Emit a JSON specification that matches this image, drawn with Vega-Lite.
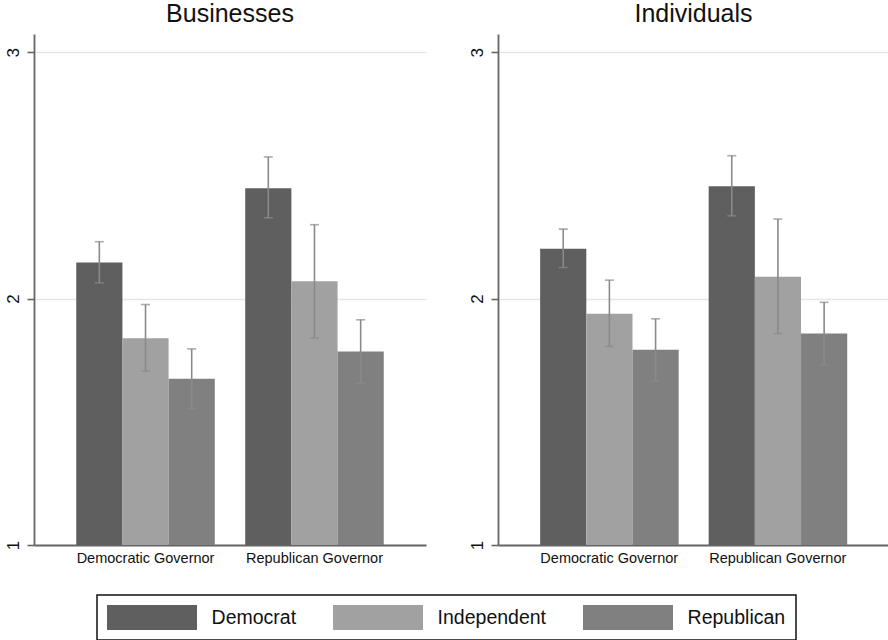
{
  "$schema": "https://vega.github.io/schema/vega-lite/v6.json",
  "background": "white",
  "padding": {"left": 4, "top": 2, "right": 0, "bottom": 0},
  "datasets": {
    "means": [
      {"panel": "Businesses", "governor": "Democratic Governor", "party": "Democrat", "mean": 2.147, "lo": 2.064, "hi": 2.231},
      {"panel": "Businesses", "governor": "Democratic Governor", "party": "Independent", "mean": 1.839, "lo": 1.706, "hi": 1.976},
      {"panel": "Businesses", "governor": "Democratic Governor", "party": "Republican", "mean": 1.675, "lo": 1.554, "hi": 1.796},
      {"panel": "Businesses", "governor": "Republican Governor", "party": "Democrat", "mean": 2.448, "lo": 2.328, "hi": 2.575},
      {"panel": "Businesses", "governor": "Republican Governor", "party": "Independent", "mean": 2.070, "lo": 1.841, "hi": 2.300},
      {"panel": "Businesses", "governor": "Republican Governor", "party": "Republican", "mean": 1.785, "lo": 1.656, "hi": 1.914},
      {"panel": "Individuals", "governor": "Democratic Governor", "party": "Democrat", "mean": 2.202, "lo": 2.126, "hi": 2.282},
      {"panel": "Individuals", "governor": "Democratic Governor", "party": "Independent", "mean": 1.939, "lo": 1.806, "hi": 2.075},
      {"panel": "Individuals", "governor": "Democratic Governor", "party": "Republican", "mean": 1.792, "lo": 1.666, "hi": 1.918},
      {"panel": "Individuals", "governor": "Republican Governor", "party": "Democrat", "mean": 2.456, "lo": 2.336, "hi": 2.580},
      {"panel": "Individuals", "governor": "Republican Governor", "party": "Independent", "mean": 2.089, "lo": 1.858, "hi": 2.323},
      {"panel": "Individuals", "governor": "Republican Governor", "party": "Republican", "mean": 1.858, "lo": 1.731, "hi": 1.985}
    ]
  },
  "spacing": 42,
  "hconcat": [
    {
      "title": "Businesses",
      "width": 392,
      "height": 511,
      "data": {"name": "means"},
      "transform": [{"filter": "datum.panel === 'Businesses'"}],
      "encoding": {
        "x": {"field": "governor", "type": "nominal", "title": null,
              "scale": {"paddingInner": 0.18, "paddingOuter": 0.25}},
        "xOffset": {"field": "party", "type": "nominal", "sort": ["Democrat", "Independent", "Republican"],
                    "scale": {"paddingInner": 0, "paddingOuter": 0}}
      },
      "layer": [
        {
          "mark": {"type": "bar"},
          "encoding": {
            "y": {"field": "mean", "type": "quantitative", "title": null,
                  "scale": {"domain": [1, 3.074], "zero": false, "nice": false},
                  "axis": {"values": [1, 2, 3], "tickMinStep": 0.5, "format": ".0f", "labelOverlap": false, "labelBound": false}},
            "y2": {"datum": 1},
            "color": {"field": "party", "type": "nominal", "title": null,
                      "scale": {"domain": ["Democrat", "Independent", "Republican"], "range": ["#5f5f5f", "#a1a1a1", "#808080"]}}
          }
        },
        {
          "mark": {"type": "rule", "color": "#8a8a8a", "strokeWidth": 1.6},
          "encoding": {"y": {"field": "lo", "type": "quantitative"}, "y2": {"field": "hi"}}
        },
        {
          "mark": {"type": "tick", "orient": "horizontal", "color": "#8a8a8a", "size": 9, "thickness": 1.6},
          "encoding": {"y": {"field": "lo", "type": "quantitative"}}
        },
        {
          "mark": {"type": "tick", "orient": "horizontal", "color": "#8a8a8a", "size": 9, "thickness": 1.6},
          "encoding": {"y": {"field": "hi", "type": "quantitative"}}
        }
      ]
    },
    {
      "title": "Individuals",
      "width": 391,
      "height": 511,
      "data": {"name": "means"},
      "transform": [{"filter": "datum.panel === 'Individuals'"}],
      "encoding": {
        "x": {"field": "governor", "type": "nominal", "title": null,
              "scale": {"paddingInner": 0.18, "paddingOuter": 0.25}},
        "xOffset": {"field": "party", "type": "nominal", "sort": ["Democrat", "Independent", "Republican"],
                    "scale": {"paddingInner": 0, "paddingOuter": 0}}
      },
      "layer": [
        {
          "mark": {"type": "bar"},
          "encoding": {
            "y": {"field": "mean", "type": "quantitative", "title": null,
                  "scale": {"domain": [1, 3.074], "zero": false, "nice": false},
                  "axis": {"values": [1, 2, 3], "tickMinStep": 0.5, "format": ".0f", "labelOverlap": false, "labelBound": false}},
            "y2": {"datum": 1},
            "color": {"field": "party", "type": "nominal", "title": null,
                      "scale": {"domain": ["Democrat", "Independent", "Republican"], "range": ["#5f5f5f", "#a1a1a1", "#808080"]}}
          }
        },
        {
          "mark": {"type": "rule", "color": "#8a8a8a", "strokeWidth": 1.6},
          "encoding": {"y": {"field": "lo", "type": "quantitative"}, "y2": {"field": "hi"}}
        },
        {
          "mark": {"type": "tick", "orient": "horizontal", "color": "#8a8a8a", "size": 9, "thickness": 1.6},
          "encoding": {"y": {"field": "lo", "type": "quantitative"}}
        },
        {
          "mark": {"type": "tick", "orient": "horizontal", "color": "#8a8a8a", "size": 9, "thickness": 1.6},
          "encoding": {"y": {"field": "hi", "type": "quantitative"}}
        }
      ]
    }
  ],
  "resolve": {"scale": {"color": "shared"}},
  "config": {
    "font": "Liberation Sans",
    "view": {"stroke": null},
    "title": {"fontSize": 25, "fontWeight": "normal", "color": "#111111", "anchor": "middle", "offset": 7, "baseline": "alphabetic", "font": "Liberation Sans"},
    "axisX": {
      "labelAngle": 0, "labelFontSize": 14.5, "labelColor": "#111111", "ticks": false,
      "labelPadding": 6, "domainColor": "#666666", "domainWidth": 1.8, "grid": false
    },
    "axisY": {
      "labelAngle": -90, "labelFontSize": 17, "labelColor": "#111111",
      "tickSize": 7, "tickColor": "#666666", "tickWidth": 1.6, "labelPadding": 5,
      "domainColor": "#666666", "domainWidth": 1.8,
      "grid": true, "gridColor": "#e6e6e6", "gridWidth": 1.3
    },
    "legend": {
      "orient": "none", "legendX": 63, "legendY": 561, "direction": "horizontal",
      "symbolType": "M-1,-1H6.2V1H-1Z", "symbolSize": 625, "symbolStrokeWidth": 0,
      "labelFontSize": 19.5, "labelColor": "#111111", "labelOffset": 79.6,
      "columnPadding": 36, "padding": 10, "strokeColor": "#111111", "strokeWidth": 1.5
    }
  }
}
